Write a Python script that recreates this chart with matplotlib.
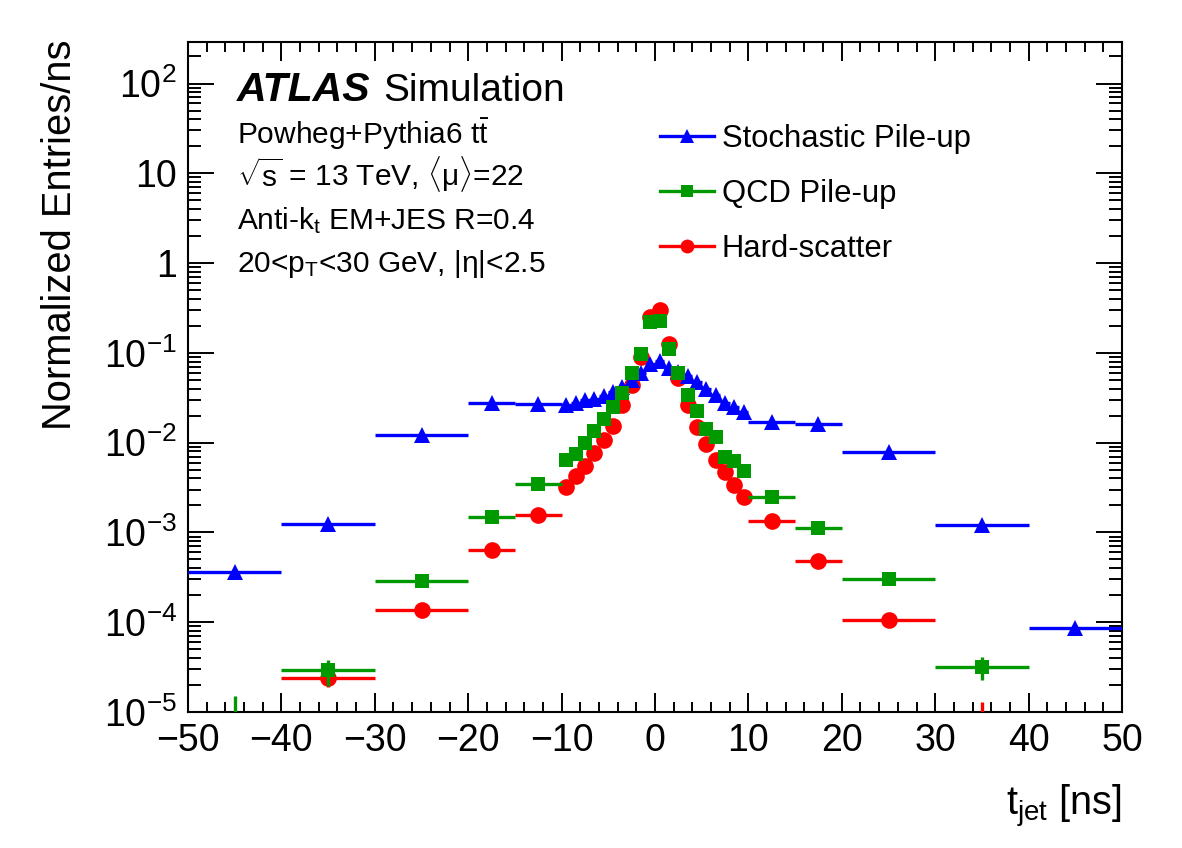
import numpy as np
import matplotlib
matplotlib.use('Agg')
import matplotlib.pyplot as plt
from matplotlib.lines import Line2D
from matplotlib.ticker import FixedLocator, LogLocator, MultipleLocator, NullFormatter, FixedFormatter

# ---------------- data ----------------
bin_edges = [-50, -40, -30, -20, -15, -10, -9, -8, -7, -6, -5, -4, -3, -2, -1, 0,
             1, 2, 3, 4, 5, 6, 7, 8, 9, 10, 15, 20, 30, 40, 50]

stochastic = [3.6e-4, 1.25e-3, 1.22e-2, 2.8e-2, 2.7e-2,
              2.65e-2, 2.8e-2, 2.95e-2, 3.1e-2, 3.3e-2, 3.7e-2, 4.2e-2, 5.0e-2, 6.0e-2, 7.6e-2,
              8.2e-2, 6.7e-2, 6.1e-2, 5.5e-2, 4.7e-2, 4.0e-2, 3.4e-2, 2.75e-2, 2.5e-2, 2.2e-2,
              1.7e-2, 1.62e-2, 7.9e-3, 1.22e-3, 8.6e-5]

qcd = [5e-6, 2.9e-5, 2.9e-4, 1.47e-3, 3.5e-3,
       6.4e-3, 7.5e-3, 9.8e-3, 1.35e-2, 1.85e-2, 2.5e-2, 3.6e-2, 5.9e-2, 9.8e-2, 0.22,
       0.225, 0.111, 5.9e-2, 3.4e-2, 2.25e-2, 1.43e-2, 1.16e-2, 7.0e-3, 6.2e-3, 4.8e-3,
       2.5e-3, 1.12e-3, 3.0e-4, 3.2e-5, np.nan]
qcd_err_lo = [4.5e-6, 0.95e-5] + [0] * 26 + [0.95e-5, 0]
qcd_err_hi = [1.0e-5, 0.85e-5] + [0] * 26 + [0.9e-5, 0]

hard = [np.nan, 2.4e-5, 1.36e-4, 6.3e-4, 1.58e-3,
        3.2e-3, 4.3e-3, 5.45e-3, 7.7e-3, 1.06e-2, 1.53e-2, 2.6e-2, 4.4e-2, 9.0e-2, 0.25,
        0.30, 0.126, 5.2e-2, 2.6e-2, 1.49e-2, 9.7e-3, 6.4e-3, 4.7e-3, 3.35e-3, 2.5e-3,
        1.33e-3, 4.8e-4, 1.05e-4, 5e-6, np.nan]
hard_err_lo = [0, 0.5e-5] + [0] * 26 + [4.5e-6, 0]
hard_err_hi = [0, 0.5e-5] + [0] * 26 + [8e-6, 0]

series_labels = ['Stochastic Pile-up', 'QCD Pile-up', 'Hard-scatter']
x_ticks = [-50, -40, -30, -20, -10, 0, 10, 20, 30, 40, 50]
y_ticks = [1e-5, 1e-4, 1e-3, 1e-2, 1e-1, 1, 10, 100]
y_ticklabels = [r'$10^{-5}$', r'$10^{-4}$', r'$10^{-3}$', r'$10^{-2}$', r'$10^{-1}$', '1', '10', r'$10^{2}$']

# ---------------- style ----------------
FONT = 'Liberation Sans'
plt.rcParams['font.family'] = [FONT, 'DejaVu Sans']
plt.rcParams['mathtext.fontset'] = 'custom'
plt.rcParams['mathtext.rm'] = FONT
plt.rcParams['mathtext.it'] = FONT + ':italic'
plt.rcParams['mathtext.bf'] = FONT + ':bold'
plt.rcParams['mathtext.default'] = 'rm'

BLUE = '#0000FF'
GREEN = '#009900'
RED = '#FF0000'

edges = np.array(bin_edges, dtype=float)
centers = 0.5 * (edges[1:] + edges[:-1])
halfw = 0.5 * (edges[1:] - edges[:-1])

fig = plt.figure(figsize=(11.82, 8.48), dpi=100)
ax = fig.add_axes([188 / 1182, 1 - 712 / 848, (1122 - 188) / 1182, (712 - 42) / 848])

lw = 2.4
# hard-scatter
ax.errorbar(centers, hard, xerr=halfw, yerr=[hard_err_lo, hard_err_hi], fmt='o', color=RED,
            ms=12, elinewidth=lw, capsize=0, mew=0, zorder=3)
# stochastic
ax.errorbar(centers, stochastic, xerr=halfw, fmt='^', color=BLUE,
            ms=12, elinewidth=lw, capsize=0, mew=0, zorder=4)
# qcd
ax.errorbar(centers, qcd, xerr=halfw, yerr=[qcd_err_lo, qcd_err_hi], fmt='s', color=GREEN,
            ms=10.5, elinewidth=lw, capsize=0, mew=0, zorder=5)

ax.set_yscale('log')
ax.set_xlim(-50, 50)
ax.set_ylim(1e-5, 290)

ax.xaxis.set_major_locator(FixedLocator(x_ticks))
ax.xaxis.set_minor_locator(MultipleLocator(2))
ax.yaxis.set_major_locator(FixedLocator(y_ticks))
ax.yaxis.set_major_formatter(FixedFormatter(y_ticklabels))
ax.yaxis.set_minor_locator(LogLocator(base=10, subs=np.arange(2, 10)))
ax.yaxis.set_minor_formatter(NullFormatter())

ax.tick_params(which='both', direction='in', top=True, right=True, width=1.4,
               labelsize=27)
ax.xaxis.set_tick_params(which='major', length=13.5, pad=8)
ax.xaxis.set_tick_params(which='minor', length=7)
ax.yaxis.set_tick_params(which='major', length=19, pad=8)
ax.yaxis.set_tick_params(which='minor', length=9.5)
for s in ax.spines.values():
    s.set_linewidth(1.5)

# axis titles
fig.text(1122 / 1182, 1 - 815 / 848, r'$\mathregular{t_{jet}}$ [ns]', ha='right', va='baseline', fontsize=28.5)
fig.text(60 / 1182, 1 - 40 / 848, 'Normalized Entries/ns', rotation=90, ha='center', va='top', fontsize=28.7)

# labels
ax.text((237 - 188) / 934, (712 - 101) / 670, 'ATLAS', transform=ax.transAxes, fontsize=29.5,
        fontweight='bold', fontstyle='italic', ha='left', va='baseline')
ax.text((383 - 188) / 934, (712 - 101) / 670, 'Simulation', transform=ax.transAxes, fontsize=28,
        ha='left', va='baseline')
info = [r'Powheg+Pythia6 $\mathregular{t\bar{t}}$',
        r'$\sqrt{s}$ = 13 TeV, $\langle\mu\rangle$=22',
        r'Anti-$k_{\mathregular{t}}$ EM+JES R=0.4',
        r'20<p$_{\mathregular{T}}$<30 GeV, |$\eta$|<2.5']
baselines = [144, 186, 229, 272]
for t, b in zip(info, baselines):
    ax.text((237 - 188) / 934, (712 - b) / 670, t, transform=ax.transAxes, fontsize=21.5,
            ha='left', va='baseline')

handles = [Line2D([], [], color=BLUE, marker='^', ms=10, lw=lw, mew=0),
           Line2D([], [], color=GREEN, marker='s', ms=9, lw=lw, mew=0),
           Line2D([], [], color=RED, marker='o', ms=10, lw=lw, mew=0)]
ax.legend(handles, series_labels, loc='upper left',
          bbox_to_anchor=((660 - 188) / 934, (712 - 124) / 670),
          frameon=False, fontsize=22.3, handlelength=1.75, handletextpad=0.25,
          labelspacing=0.8, borderpad=0, borderaxespad=0)

fig.savefig('out.png', dpi=100)
